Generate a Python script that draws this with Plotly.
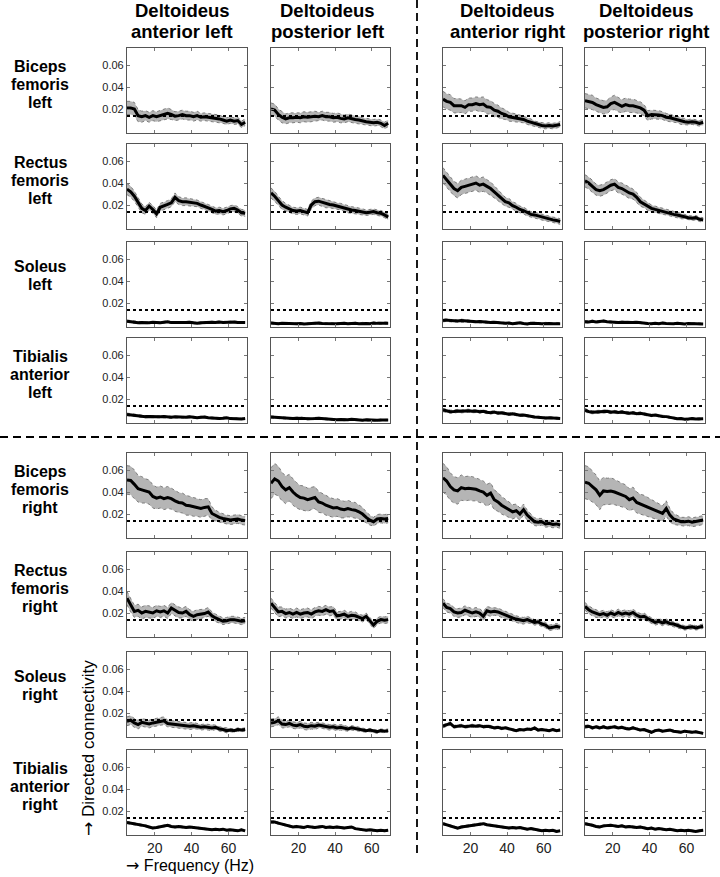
import plotly.graph_objects as go

# frequency grid (Hz) shared by every panel
FREQ_HZ = list(range(5, 71, 2))
THRESHOLD = 0.0137          # dotted significance level
X_TICKS = [20, 40, 60]
Y_TICKS = [0.02, 0.04, 0.06]
Y_TICK_TEXT = ["0.02", "0.04", "0.06"]

COL_TITLES = [("Deltoideus", "anterior left"), ("Deltoideus", "posterior left"),
              ("Deltoideus", "anterior right"), ("Deltoideus", "posterior right")]
ROW_TITLES = [("Biceps", "femoris", "left"), ("Rectus", "femoris", "left"),
              ("Soleus", "left"), ("Tibialis", "anterior", "left"),
              ("Biceps", "femoris", "right"), ("Rectus", "femoris", "right"),
              ("Soleus", "right"), ("Tibialis", "anterior", "right")]

# mean directed connectivity and its spread, in units of 1e-3, one list per column
biceps_femoris_left_mean = [
    [21,21,20,14,13,14,12.5,14,13,14,15,16,15,13.5,14,15,14,14,13,14,12.5,13,12.5,12,12,11,10,9,10,9,9.5,6,8],
    [20,19,15,12.5,11,12,12,12.5,12,13,12.5,13,13.5,13,14,13,13,12,12.5,11.5,11,12,11,10.5,10,9,8.5,8,7.5,8,7,5,7],
    [29,27,26,23,23,23,21.5,24,24,25,24,24.5,22,21.5,19,18,16,15,13,12.5,12,11,10.5,9,8,6.5,6,5,4.5,5,4.5,5,6],
    [27.5,27,26,24,22.5,21.5,22,25,26,24,22.5,24,23,23,22,21,19,14,15,15,14.5,14,12.5,12,11,10.5,9,8.5,8,8.5,8,7,8],
]
biceps_femoris_left_sem = [
    [6,6,6,5.5,5,4.5,4.5,4.5,4.5,4.5,4.5,5,4.5,4,4,4,4,4,4,4,3.5,3.5,3.5,3.5,3.5,3.5,3,3,3,3,3,3,3],
    [5.5,5.5,5,5,4.5,4.5,4.5,4.5,4.5,4.5,4.5,4.5,4.5,4,4,4,4,4,4,4,3.5,3.5,3.5,3.5,3.5,3,3,3,3,3,3,3,3],
    [7,7,7,6.5,6.5,6,6,6,6,6,6.5,6.5,6.5,6,6,5.5,5,4.5,4,4,3.5,3.5,3,3,3,2.5,2.5,2.5,2.5,2.5,2.5,2.5,2.5],
    [6.5,6.5,6.5,6,6,6,6,6,6.5,6.5,6,6,6,6,5.5,5.5,5,4.5,4,4,4,3.5,3.5,3.5,3,3,3,3,2.5,2.5,2.5,2.5,2.5],
]
rectus_femoris_left_mean = [
    [34.5,32,28,22,17,15,19,16,12,18,19,20.5,22,27,24,23,23,22.5,22,21.5,20,19,17.5,16,14.5,15,14,15,16.5,17,15.5,13,12.5],
    [31,28,24,20,18,16.5,15,14.5,15,14,13,20,23,23.5,22.5,21,20.5,20,19,18.5,17.5,16,15.5,15,14.5,14,13,13.5,14,13,12.5,11,9],
    [47,43,39,35,33,36,37,38,39.5,40,38,39,37,35,32,29,26,23,22,19.5,18,16,15,13,11.5,11,10,9,8,7.5,6.5,6,5],
    [42,40,37,34,33,34,36,38,39,36,35,33,31,30,27,23,21,18.5,17,16,15,14.5,13.5,12.5,11.5,11,10,9.5,8.5,8,8.5,7,6.5],
]
rectus_femoris_left_sem = [
    [5,5,4.5,4,4,3.5,3.5,3.5,3.5,3.5,3.5,3.5,3.5,4,3.5,3.5,3.5,3.5,3.5,3,3,3,3,3,3,3,3,3,3,3,3,3,3],
    [4.5,4.5,4,4,3.5,3.5,3,3,3,3,3,3.5,3.5,3.5,3.5,3.5,3,3,3,3,3,3,3,3,3,2.5,2.5,2.5,2.5,2.5,2.5,2.5,2.5],
    [7,7,7,6.5,6.5,6.5,6.5,6.5,6.5,6.5,6.5,6.5,6,6,5.5,5,4.5,4,4,3.5,3.5,3,3,3,2.5,2.5,2.5,2.5,2.5,2.5,2.5,2.5,2.5],
    [5.5,5.5,5.5,5,5,5,5,5,5,5,5,5,5,4.5,4.5,4,3.5,3.5,3,3,3,3,2.5,2.5,2.5,2.5,2.5,2,2,2,2,2,2],
]
soleus_left_mean = [
    [3.5,3,2.5,2,2.2,1.8,2,2.5,2.2,2,2.6,3,2.2,2,1.8,2.2,2.4,2.6,2,1.6,2,2.4,2.2,2.6,2.4,2.8,2.4,2.6,3,2.8,2.4,2,2.2],
    [1.8,1.5,1.2,1.6,1.4,1,0.8,1.2,1.4,0.9,1.1,1.5,1.3,1.8,1.4,1.2,1.5,1,1.2,1.4,1.6,1.1,1.4,1.7,1.2,1.6,1.4,1.2,1.8,1.5,1.6,1.9,1.7],
    [4,4.5,4,3.8,3.6,4.2,3.8,3.4,3.2,3,3.2,2.8,2.6,2.4,2.6,2.2,2,1.6,1.8,1.2,1.6,2,1.4,1,1.6,1.8,1.4,1.2,1.6,1.4,1.2,1.5,1.2],
    [3,2.8,3.4,2.8,3.2,3.6,3,2.6,2.4,2.2,2.6,2.4,2.2,2.4,2.6,2,1.6,1.4,1.2,1.6,1.2,1.8,1.4,1,1.2,1.5,1.1,1,1.3,1.1,1.4,1.2,1],
]
soleus_left_sem = [
    [1,1,0.9,0.9,0.8,0.8,0.8,0.9,0.8,0.8,0.9,0.9,0.8,0.8,0.8,0.8,0.8,0.9,0.8,0.8,0.8,0.8,0.8,0.8,0.8,0.9,0.8,0.8,0.9,0.8,0.8,0.8,0.8],
    [0.9,0.9,0.8,0.8,0.8,0.7,0.7,0.8,0.8,0.7,0.7,0.8,0.8,0.9,0.8,0.8,0.8,0.7,0.7,0.8,0.8,0.7,0.8,0.8,0.7,0.8,0.8,0.7,0.8,0.8,0.8,0.9,0.8],
    [1.1,1.2,1.1,1,1,1.1,1,1,0.9,0.9,0.9,0.9,0.9,0.8,0.9,0.8,0.8,0.8,0.8,0.7,0.8,0.8,0.7,0.7,0.8,0.8,0.7,0.7,0.8,0.7,0.7,0.8,0.7],
    [1,1,1,0.9,1,1,0.9,0.9,0.9,0.8,0.9,0.9,0.8,0.8,0.9,0.8,0.8,0.7,0.7,0.8,0.7,0.8,0.7,0.7,0.7,0.8,0.7,0.7,0.7,0.7,0.7,0.7,0.7],
]
tibialis_anterior_left_mean = [
    [6,5.5,5.2,5,4.4,4,4.2,4,3.6,3.8,4,3.6,3.4,3.8,3.6,3.2,3.4,3.8,3.4,3,3.4,3.6,3,2.6,2.8,2.4,2.6,3,2.2,2,2.4,1.8,2.2],
    [3.6,3.4,3.2,3,2.6,2,2.2,2.6,2.8,2.4,2,1.8,2.2,2.6,2.2,1.8,1.4,1.6,1.2,1.4,1,1.2,1.6,1.2,1,0.8,1.2,0.8,0.4,0.6,1,0.8,1],
    [10,9,8.5,8.6,9.2,8.8,9,9.4,8.8,9,8.4,8.8,8,7.6,8.2,7.2,7.4,6.8,6.2,6.6,5.8,5.2,5.4,4.6,4,3.6,3.4,3,2.8,3,2.6,2.8,2.4],
    [10,8.5,8,8.2,8.6,8.4,8.8,8,8.4,7.8,8.2,7.6,7,7.4,6.6,7,6.2,5.4,5,5.4,4.6,4.2,4,3.2,2.4,2,2.2,1.6,1.8,2.2,1.8,1.6,2],
]
tibialis_anterior_left_sem = [
    [1.2,1.1,1.1,1,1,1,1,1,0.9,0.9,1,0.9,0.9,0.9,0.9,0.9,0.9,0.9,0.9,0.8,0.9,0.9,0.8,0.8,0.8,0.8,0.8,0.8,0.8,0.7,0.8,0.7,0.7],
    [1,1,0.9,0.9,0.9,0.8,0.8,0.9,0.9,0.8,0.8,0.8,0.8,0.8,0.8,0.8,0.7,0.7,0.7,0.7,0.7,0.7,0.7,0.7,0.7,0.6,0.7,0.6,0.6,0.6,0.7,0.6,0.6],
    [1.5,1.4,1.4,1.4,1.4,1.4,1.4,1.4,1.3,1.3,1.3,1.3,1.3,1.2,1.2,1.2,1.2,1.1,1.1,1.1,1,1,1,1,0.9,0.9,0.9,0.9,0.9,0.9,0.9,0.9,0.9],
    [1.5,1.4,1.4,1.4,1.4,1.4,1.4,1.3,1.3,1.3,1.3,1.3,1.2,1.2,1.2,1.2,1.1,1.1,1,1,1,1,1,0.9,0.9,0.9,0.9,0.9,0.9,0.9,0.9,0.9,0.9],
]
biceps_femoris_right_mean = [
    [51,50.5,47,43,42,41,40,36,34.5,35.5,34,35,34,32,30.5,30,28,27.5,26.5,26,25,26,26.5,20.5,18.5,17,16,15,14.5,15,15.5,14.5,14],
    [48,52,50,45,42,44,40,37,35,34.5,33,34,35,31,30,28,26.5,25.5,26,24.5,24,25,24,23.5,22,20,17,14.5,13,15.5,16,15.5,16],
    [53,50,45,42,41,44,43,43.5,43,42.5,41,40,37,39,33,31,28,26,24,22,23,20,24,19,16,13,12.5,13,11,11.5,10.5,11,10],
    [49,48,45,42,37,41,40.5,41,40,38.5,37,36,33,34.5,30.5,29,28,26.5,25,23.5,22,20.5,25,19,15.5,14.5,13,13,13.5,12.5,13,13.5,14.5],
]
biceps_femoris_right_sem = [
    [13,13,13,12,12,11,11,10.5,10,10,10,10,9.5,9.5,9,9,9,8.5,8.5,8,8,8,7.5,6,5,4.5,4,4,4,4,4,4,4],
    [14,14,13.5,13,12.5,12,12,11.5,11,11,10.5,10,10,9.5,9,9,8.5,8.5,8,8,7.5,7.5,7,7,6.5,6,5,4.5,4,4,4,4,4],
    [13,13,12.5,12,12,11.5,11,11,11,10.5,10.5,10,10,9.5,9,8.5,8,7.5,7,6.5,6,5.5,5,4.5,4,3.5,3.5,3,3,3,3,3,3],
    [15,15,14,13.5,13,12.5,12,12,11.5,11,11,10.5,10,10,9.5,9,9,8.5,8,8,7.5,7,7,6,5,4.5,4,4,4,4,4,4,4],
]
rectus_femoris_right_mean = [
    [33.5,27,21.5,22.5,20,21.5,21,20,22,21,22,20,24.5,22.5,20.5,20,21.5,18.5,17,18.5,19,19.5,21,17.5,15.5,14,12.5,13,14,14,13.5,12.5,13],
    [29,25,21,21.5,19.5,20.5,19,20.5,19,20,20.5,19,21,22,21.5,23,21.5,22,17.5,18,19,17,18,17.5,16,15,17,13,9,12.5,14,13.5,14],
    [29,25,24,21,20,20.5,22.5,21,20,21,20,17,22,21,21.5,21,19.5,18,17,15.5,14.5,13.5,13,14,13,11.5,12,10,9,6.5,7,8,7],
    [26,23,21,19.5,18.5,19.5,18,20,18.5,20.5,19,20,19,20.5,18,16.5,17,15,13,11.5,12.5,11,12,10.5,10,8.5,7.5,6.5,7,7.5,6.5,7,8],
]
rectus_femoris_right_sem = [
    [6,6,5.5,5.5,5.5,5.5,5.5,5,5,5,5,5,5,5,5,4.5,4.5,4.5,4.5,4.5,4,4,4,3.5,3.5,3,3,3,3,3,3,3,3],
    [4.5,4.5,4.5,4,4,4,4,4,4,4,4,4,4,4,4,4,4,4,3.5,3.5,3.5,3.5,3.5,3.5,3,3,3,3,3,3,3,3,3],
    [4,4,4,4,4,4,4,4,4,4,4,4,4,4,3.5,3.5,3.5,3.5,3,3,3,3,3,3,2.5,2.5,2.5,2.5,2.5,2.5,2.5,2.5,2.5],
    [3.5,3.5,3.5,3.5,3,3,3,3,3,3,3,3,3,3,3,3,3,2.5,2.5,2.5,2.5,2.5,2.5,2,2,2,2,2,2,2,2,2,2],
]
soleus_right_mean = [
    [12.5,13.5,11,9.5,11.5,10.5,10,11,11.5,12,13,10.5,10,9.5,9.5,9,8.5,8,8.5,8,7,7.5,7,6.5,7,5.5,5,4,4.5,4,5,4.5,5],
    [11,11.5,13,10,9.5,10.5,9,8.5,9.5,8,7.5,8.5,8,9,8.5,7.5,7,7.5,6.5,7,6.5,5.5,6.5,6,5,4.5,4,4.5,3.5,3,4,3.5,4],
    [8,9,10.5,7.5,8,8.5,7.5,8,8.5,8,8.5,7.5,8,7.5,6.5,7,6,6.5,5.5,4.5,4,5,4.5,5.5,5,6.5,4.5,5,4.5,4,5,4,4.5],
    [7.5,8,6.5,7.5,6.5,7.5,6.5,7,7.5,6.5,7,6,5.5,6.5,5.5,4.5,5,3.5,2.5,4,4.5,3.5,4,4.5,3.5,3,2.5,3.5,3,2.5,3,2.5,1.5],
]
soleus_right_sem = [
    [4,4,4,4,3.5,3.5,3.5,3.5,3.5,3.5,3.5,3,3,3,3,3,3,3,3,2.5,2.5,2.5,2.5,2.5,2,2,2,2,1.5,1.5,1.5,1.5,1.5],
    [3.5,3.5,3.5,3.5,3,3,3,3,3,3,3,3,3,2.5,2.5,2.5,2.5,2.5,2.5,2.5,2.5,2,2,2,2,2,1.5,1.5,1.5,1.5,1.5,1.5,1.5],
    [1.4,1.5,1.6,1.3,1.3,1.3,1.2,1.2,1.3,1.2,1.2,1.2,1.2,1.2,1.1,1.1,1.1,1.1,1,1,1,1,1,1,1,1.1,1,1,1,0.9,1,0.9,0.9],
    [1.3,1.3,1.2,1.2,1.2,1.2,1.1,1.2,1.2,1.1,1.1,1.1,1,1.1,1,1,1,0.9,0.9,0.9,0.9,0.9,0.9,0.9,0.9,0.8,0.8,0.8,0.8,0.8,0.8,0.8,0.8],
]
tibialis_anterior_right_mean = [
    [9.5,9,8,7.5,7,6.5,5.5,4.5,5,5.5,6.5,7,6,5.5,6,5.5,5,5.5,5,4.5,4.5,4,3.5,3,3.5,3,3.5,2.5,3,2.5,2,3,2],
    [10,10,9,8,7,6,5.5,6,5.5,5,6,5.5,5,5.5,6,5,5.5,5,5.5,5,4.5,5,5.5,4,3.5,3,2.5,3,2.5,2,2.5,2,2.5],
    [8.5,7.5,6.5,5,4.5,5.5,6,6.5,7,7.5,8,8.5,7.5,7,6.5,6,5.5,5.5,4.5,5,4.5,5,4,3.5,4,3.5,2.5,2,2.5,2,2.5,1.5,2],
    [8.5,8,7,6,5.5,6.5,7,7,6.5,6,6.5,5.5,6,5.5,5,5.5,4.5,4,4.5,3.5,4,3.5,3,3.5,2.5,2,2.5,2,2.5,2,1.5,2,2.5],
]
tibialis_anterior_right_sem = [
    [1,1,1,0.9,0.9,0.9,0.9,0.8,0.8,0.9,0.9,0.9,0.9,0.8,0.9,0.8,0.8,0.8,0.8,0.8,0.8,0.8,0.7,0.7,0.7,0.7,0.7,0.7,0.7,0.7,0.7,0.7,0.7],
    [1,1,1,0.9,0.9,0.9,0.8,0.9,0.8,0.8,0.9,0.8,0.8,0.8,0.9,0.8,0.8,0.8,0.8,0.8,0.8,0.8,0.8,0.7,0.7,0.7,0.7,0.7,0.7,0.7,0.7,0.7,0.7],
    [1,1,0.9,0.9,0.8,0.9,0.9,0.9,0.9,0.9,1,1,0.9,0.9,0.9,0.9,0.8,0.8,0.8,0.8,0.8,0.8,0.8,0.7,0.8,0.7,0.7,0.7,0.7,0.7,0.7,0.7,0.7],
    [1,1,0.9,0.9,0.9,0.9,0.9,0.9,0.9,0.9,0.9,0.8,0.9,0.8,0.8,0.8,0.8,0.8,0.8,0.7,0.8,0.7,0.7,0.7,0.7,0.7,0.7,0.7,0.7,0.7,0.7,0.7,0.7],
]

ROWS = [
    (biceps_femoris_left_mean, biceps_femoris_left_sem),
    (rectus_femoris_left_mean, rectus_femoris_left_sem),
    (soleus_left_mean, soleus_left_sem),
    (tibialis_anterior_left_mean, tibialis_anterior_left_sem),
    (biceps_femoris_right_mean, biceps_femoris_right_sem),
    (rectus_femoris_right_mean, rectus_femoris_right_sem),
    (soleus_right_mean, soleus_right_sem),
    (tibialis_anterior_right_mean, tibialis_anterior_right_sem),
]

# page geometry in pixels
W, H = 720, 877
COL_PX = [(127, 247), (271, 390), (443, 562), (585, 705)]
ROW_TOP_PX = [48, 144, 242, 338, 453, 552, 652, 750]
PANEL_H = 85
FONT = "Liberation Sans, Arial, sans-serif"
ARROW = '<span style="font-family:DejaVu Sans">\u2192</span>'


def px_x(x):
    return x / W


def px_y(y):
    return 1 - y / H


fig = go.Figure()
layout = {}

for r, (means, sems) in enumerate(ROWS):
    for c in range(4):
        idx = r * 4 + c + 1
        xa, ya = f"x{idx}", f"y{idx}"
        mean = [v / 1000 for v in means[c]]
        sem = [v / 1000 for v in sems[c]]
        assert len(mean) == len(FREQ_HZ) and len(sem) == len(FREQ_HZ), (r, c)
        upper = [m + s for m, s in zip(mean, sem)]
        lower = [m - s for m, s in zip(mean, sem)]

        fig.add_trace(go.Scatter(x=FREQ_HZ, y=upper, xaxis=xa, yaxis=ya, mode="lines",
                                 line=dict(color="#7d7d7d", width=1, dash="dot"),
                                 showlegend=False, hoverinfo="skip"))
        fig.add_trace(go.Scatter(x=FREQ_HZ, y=lower, xaxis=xa, yaxis=ya, mode="lines",
                                 fill="tonexty", fillcolor="#b5b5b5",
                                 line=dict(color="#7d7d7d", width=1, dash="dot"),
                                 showlegend=False, hoverinfo="skip"))
        fig.add_trace(go.Scatter(x=[FREQ_HZ[0], 70], y=[THRESHOLD, THRESHOLD],
                                 xaxis=xa, yaxis=ya, mode="lines",
                                 line=dict(color="black", width=2, dash="dot"),
                                 showlegend=False, hoverinfo="skip"))
        fig.add_trace(go.Scatter(x=FREQ_HZ, y=mean, xaxis=xa, yaxis=ya, mode="lines",
                                 line=dict(color="black", width=3),
                                 showlegend=False))

        x0, x1 = COL_PX[c]
        top = ROW_TOP_PX[r]
        axis_common = dict(showline=True, linecolor="#555555", linewidth=1.2, mirror="ticks",
                           ticks="inside", ticklen=3, tickcolor="#777777",
                           showgrid=False, zeroline=False)
        layout[f"xaxis{idx}"] = dict(
            domain=[px_x(x0), px_x(x1)], anchor=ya, range=[5, 70],
            tickvals=X_TICKS, showticklabels=(r == len(ROWS) - 1),
            tickfont=dict(family=FONT, size=14, color="#222222"), **axis_common)
        layout[f"yaxis{idx}"] = dict(
            domain=[px_y(top + PANEL_H), px_y(top)], anchor=xa, range=[-0.0018, 0.0755],
            tickvals=Y_TICKS, ticktext=Y_TICK_TEXT, showticklabels=(c == 0),
            tickfont=dict(family=FONT, size=11, color="#222222"), **axis_common)

annotations = []
col_centers = [182, 327, 507, 646]
for c, lines in enumerate(COL_TITLES):
    for k, text in enumerate(lines):
        annotations.append(dict(x=px_x(col_centers[c]), y=px_y(10.6 + 20.8 * k), xref="paper", yref="paper",
                                text=f"<b>{text}</b>", showarrow=False, xanchor="center", yanchor="middle",
                                font=dict(family=FONT, size=18.5, color="black")))

for r, lines in enumerate(ROW_TITLES):
    centre = ROW_TOP_PX[r] + PANEL_H / 2
    start = centre - 24 if len(lines) == 3 else centre - 18
    for k, text in enumerate(lines):
        annotations.append(dict(x=px_x(40), y=px_y(start + 18 * k), xref="paper", yref="paper",
                                text=f"<b>{text}</b>", showarrow=False, xanchor="center", yanchor="middle",
                                font=dict(family=FONT, size=16, color="black")))

annotations.append(dict(x=px_x(190), y=px_y(865), xref="paper", yref="paper",
                        text=f"{ARROW} Frequency (Hz)", showarrow=False, xanchor="center", yanchor="middle",
                        font=dict(family=FONT, size=16, color="black")))
annotations.append(dict(x=px_x(88), y=px_y(748), xref="paper", yref="paper",
                        text=f"{ARROW} Directed connectivity", showarrow=False, textangle=-90,
                        xanchor="center", yanchor="middle",
                        font=dict(family=FONT, size=17, color="black")))

shapes = [
    dict(type="line", xref="paper", yref="paper", x0=0, x1=1, y0=px_y(437), y1=px_y(437),
         line=dict(color="black", width=1.8, dash="8px,5px")),
    dict(type="line", xref="paper", yref="paper", x0=px_x(417), x1=px_x(417), y0=px_y(0), y1=px_y(853),
         line=dict(color="black", width=1.8, dash="8px,5px")),
]

fig.update_layout(width=W, height=H, margin=dict(l=0, r=0, t=0, b=0), autosize=False,
                  paper_bgcolor="white", plot_bgcolor="white",
                  annotations=annotations, shapes=shapes, **layout)

# drop the browser's default page margin so the figure sits at the window's corner
fig.write_html("out.html", config={"displayModeBar": False},
               post_script="document.body.style.margin='0';document.body.style.overflow='hidden';")
